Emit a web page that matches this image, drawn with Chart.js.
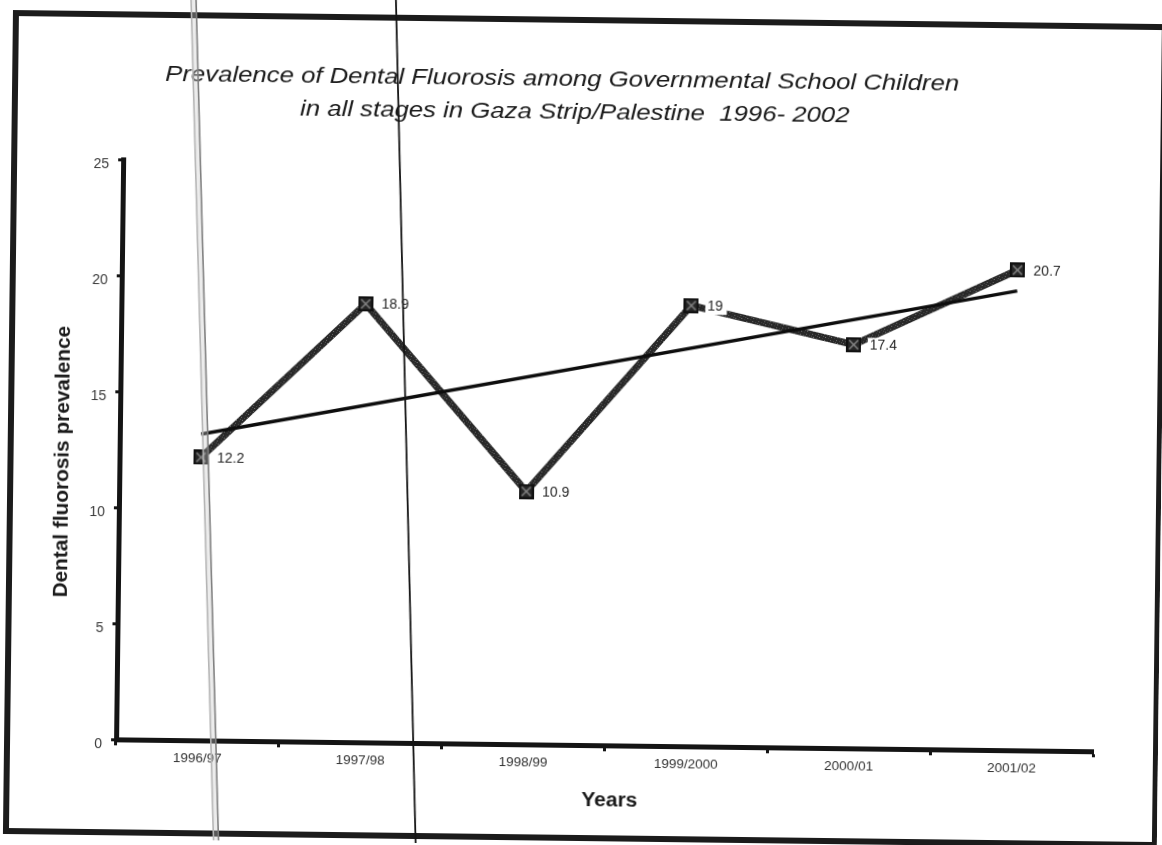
<!DOCTYPE html>
<html>
<head>
<meta charset="utf-8">
<script src="https://cdn.jsdelivr.net/npm/chart.js@4.4.1/dist/chart.umd.min.js"></script>
<style>
  html, body { margin: 0; padding: 0; background: #fff; overflow: hidden; }
  #sheet { width: 1162px; height: 845px; transform: rotate(0.7deg); transform-origin: 581px 422px; }
</style>
</head>
<body>
<div id="sheet"><canvas id="chart" width="1162" height="845"></canvas></div>
<script>
// Survey years and prevalence (%) of dental fluorosis
const years = ['1996/97', '1997/98', '1998/99', '1999/2000', '2000/01', '2001/02'];
const prevalence = [12.2, 18.9, 10.9, 19, 17.4, 20.7];
// Linear trend, end points only
const trend = [13.2, null, null, null, null, 19.8];
const yTickStep = 5;
const yMin = 0;
const yMax = 25;

const titleLines = [
  'Prevalence of Dental Fluorosis among Governmental School Children',
  'in all stages in Gaza Strip/Palestine  1996- 2002'
];
const yTitle = 'Dental fluorosis prevalence';
const xTitle = 'Years';

const FONT = '"Liberation Sans", Arial, sans-serif';
const canvas = document.getElementById('chart');
const ctx0 = canvas.getContext('2d');

// grainy dark stroke for the main series line
function grainPattern() {
  const c = document.createElement('canvas');
  c.width = 6; c.height = 6;
  const g = c.getContext('2d');
  g.fillStyle = '#282828';
  g.fillRect(0, 0, 6, 6);
  const spots = [[1, 1, '#6a6a6a'], [4, 2, '#4a4a4a'], [2, 4, '#777'], [5, 5, '#404040'], [0, 3, '#555']];
  spots.forEach(([x, y, col]) => { g.fillStyle = col; g.fillRect(x, y, 1, 1); });
  return ctx0.createPattern(c, 'repeat');
}

// square marker with a lighter cross inside
function squareMarker() {
  const s = 15;
  const c = document.createElement('canvas');
  c.width = s; c.height = s;
  const g = c.getContext('2d');
  g.fillStyle = '#262626';
  g.fillRect(0, 0, s, s);
  g.strokeStyle = '#8c8c8c';
  g.lineWidth = 1.4;
  g.beginPath();
  g.moveTo(3, 3); g.lineTo(s - 3, s - 3);
  g.moveTo(s - 3, 3); g.lineTo(3, s - 3);
  g.stroke();
  g.strokeStyle = '#111';
  g.lineWidth = 2;
  g.strokeRect(1, 1, s - 2, s - 2);
  return c;
}

const paper = {
  id: 'paper',
  beforeDraw(chart) {
    const ctx = chart.ctx;
    ctx.save();
    ctx.fillStyle = '#fff';
    ctx.fillRect(0, 0, chart.width, chart.height);
    ctx.strokeStyle = '#1b1b1b';
    ctx.lineWidth = 6;
    ctx.strokeRect(11, 20, 1149, 818);
    ctx.restore();
  }
};

function stretchedText(ctx, text, x, y, sx) {
  ctx.save();
  ctx.translate(x, y);
  ctx.scale(sx, 1);
  ctx.fillText(text, 0, 0);
  ctx.restore();
}

const headings = {
  id: 'headings',
  afterDraw(chart) {
    const ctx = chart.ctx;
    ctx.save();
    ctx.fillStyle = '#1a1a1a';
    ctx.textAlign = 'center';
    ctx.textBaseline = 'middle';
    ctx.font = 'italic 22px ' + FONT;
    stretchedText(ctx, titleLines[0], 558, 80, 1.17);
    stretchedText(ctx, titleLines[1], 571, 113, 1.17);

    ctx.font = 'bold 20px ' + FONT;
    stretchedText(ctx, xTitle, 614, 800, 1.05);

    ctx.font = 'bold 20px ' + FONT;
    ctx.translate(63, 468);
    ctx.rotate(-Math.PI / 2);
    stretchedText(ctx, yTitle, 0, 0, 1.04);
    ctx.restore();
  }
};

const valueLabels = {
  id: 'valueLabels',
  afterDatasetsDraw(chart) {
    const ctx = chart.ctx;
    const meta = chart.getDatasetMeta(1);
    ctx.save();
    ctx.font = '14px ' + FONT;
    ctx.textBaseline = 'middle';
    ctx.textAlign = 'left';
    meta.data.forEach((pt, i) => {
      const txt = String(prevalence[i]);
      const w = ctx.measureText(txt).width;
      const x = pt.x + 16, y = pt.y + 1;
      ctx.fillStyle = '#fff';
      ctx.fillRect(x - 2, y - 8, w + 6, 16);
      ctx.fillStyle = '#262626';
      ctx.fillText(txt, x, y);
    });
    ctx.restore();
  }
};

// copier streaks running down the sheet
const streaks = {
  id: 'streaks',
  afterDraw(chart) {
    const ctx = chart.ctx;
    ctx.save();
    ctx.lineCap = 'butt';
    ctx.fillStyle = 'rgba(200,200,200,0.35)';
    ctx.beginPath();
    ctx.moveTo(185, -20); ctx.lineTo(190, -20); ctx.lineTo(225, 880); ctx.lineTo(220, 880);
    ctx.closePath();
    ctx.fill();
    ctx.strokeStyle = '#b5b5b5';
    ctx.lineWidth = 1.6;
    ctx.beginPath(); ctx.moveTo(185, -20); ctx.lineTo(220, 880); ctx.stroke();
    ctx.strokeStyle = '#808080';
    ctx.lineWidth = 1.6;
    ctx.beginPath(); ctx.moveTo(190, -20); ctx.lineTo(225, 880); ctx.stroke();

    ctx.strokeStyle = '#151515';
    ctx.lineWidth = 1.8;
    ctx.beginPath(); ctx.moveTo(390, -20); ctx.lineTo(422, 880); ctx.stroke();
    ctx.restore();
  }
};

new Chart(canvas, {
  type: 'line',
  data: {
    labels: years,
    datasets: [
      {
        label: 'Linear trend',
        data: trend,
        spanGaps: true,
        borderColor: '#0d0d0d',
        borderWidth: 3.5,
        pointRadius: 0,
        tension: 0,
        order: 0
      },
      {
        label: 'Prevalence',
        data: prevalence,
        borderColor: grainPattern(),
        borderWidth: 7,
        pointStyle: squareMarker(),
        pointRadius: 7,
        tension: 0,
        order: 1
      }
    ]
  },
  options: {
    responsive: false,
    animation: false,
    devicePixelRatio: 1,
    layout: { padding: { left: 40, right: 65, top: 165, bottom: 60 } },
    plugins: {
      legend: { display: false },
      title: { display: false },
      tooltip: { enabled: false }
    },
    scales: {
      x: {
        type: 'category',
        offset: true,
        afterFit(scale) { scale.height = 40; },
        border: { display: true, color: '#141414', width: 5 },
        grid: {
          display: true, offset: true, drawOnChartArea: false, drawTicks: true,
          tickLength: 6, tickWidth: 3, tickColor: '#141414'
        },
        ticks: {
          color: '#333',
          font: { family: FONT, size: 13.5 },
          padding: 4,
          maxRotation: 0,
          autoSkip: false
        }
      },
      y: {
        min: yMin,
        max: yMax,
        afterFit(scale) { scale.width = 80; },
        border: { display: true, color: '#141414', width: 5 },
        grid: {
          display: true, drawOnChartArea: false, drawTicks: true,
          tickLength: 5, tickWidth: 3, tickColor: '#141414'
        },
        ticks: {
          stepSize: yTickStep,
          color: '#3a3a3a',
          font: { family: FONT, size: 14 },
          padding: 9,
          labelOffset: 5
        }
      }
    }
  },
  plugins: [paper, headings, valueLabels, streaks]
});
</script>
</body>
</html>
